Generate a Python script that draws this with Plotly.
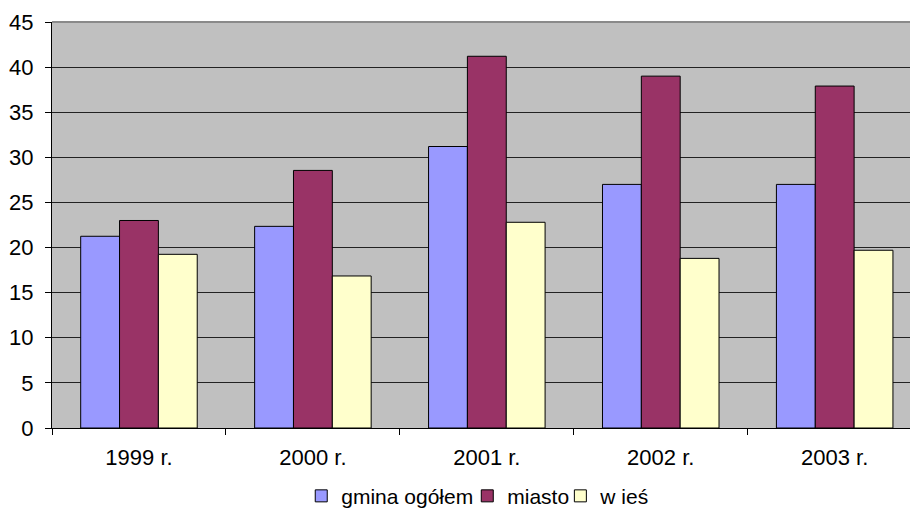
import plotly.graph_objects as go

categories = ["1999 r.", "2000 r.", "2001 r.", "2002 r.", "2003 r."]
gmina = [21.25, 22.35, 31.2, 27.0, 27.0]
miasto = [23.0, 28.55, 41.2, 39.0, 37.9]
wies = [19.25, 16.85, 22.8, 18.8, 19.7]
series_names = ["gmina ogółem", "miasto", "w ieś"]
colors = ["#9999FF", "#993366", "#FFFFCC"]
y_ticks = [0, 5, 10, 15, 20, 25, 30, 35, 40, 45]
legend_ids = ["legend", "legend2", "legend3"]
legend_x = [0.2905, 0.4840, 0.5925]

fig = go.Figure()
for name, vals, col, lg in zip(series_names, [gmina, miasto, wies], colors, legend_ids):
    fig.add_trace(go.Bar(x=categories, y=vals, name=name, legend=lg,
                         marker=dict(color=col, line=dict(color="black", width=1))))

font = "Liberation Sans, Arial, sans-serif"
legend_common = dict(orientation="h", xanchor="left", y=-0.168, yanchor="middle",
                     font=dict(size=21), itemwidth=30, bgcolor="rgba(0,0,0,0)")
fig.update_layout(
    width=910, height=509,
    margin=dict(l=52, r=0, t=22, b=81, autoexpand=False),
    paper_bgcolor="white", plot_bgcolor="#C0C0C0",
    barmode="group", bargap=0.33, bargroupgap=0,
    font=dict(family=font, size=22, color="black"),
    showlegend=True,
    legend=dict(x=legend_x[0], **legend_common),
    legend2=dict(x=legend_x[1], **legend_common),
    legend3=dict(x=legend_x[2], **legend_common),
    xaxis=dict(range=[-0.5, 4.433], type="category", showgrid=False,
               ticks="outside", tickson="boundaries", ticklen=6, tickcolor="black",
               showline=True, linecolor="black", linewidth=1,
               ticklabelstandoff=10, tickfont=dict(size=22)),
    yaxis=dict(range=[0, 45], tickvals=y_ticks, ticks="outside", ticklen=6,
               tickcolor="black", showline=True, linecolor="black", linewidth=1,
               gridcolor="#222222", gridwidth=1, zeroline=False,
               ticklabelstandoff=7, tickfont=dict(size=22)),
)
fig.add_shape(type="line", xref="paper", yref="paper", x0=0, x1=1, y0=1, y1=1,
              line=dict(color="#8a8a8a", width=2))
fig.write_html("out.html", config={"displayModeBar": False},
               post_script="document.body.style.margin='0';document.body.style.overflow='hidden';")
